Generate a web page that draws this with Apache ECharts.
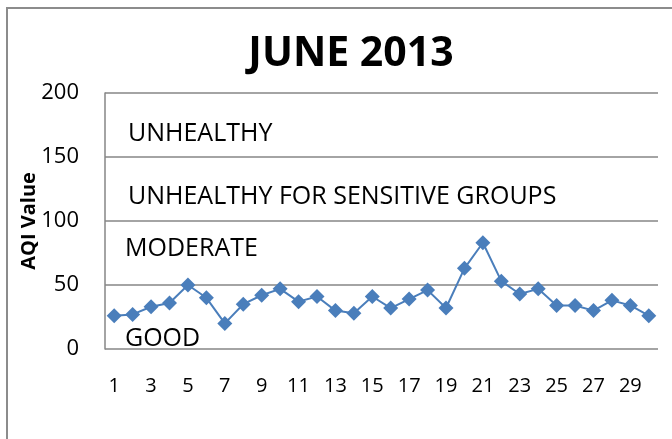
<!DOCTYPE html>
<html>
<head>
<meta charset="utf-8">
<script src="https://cdn.jsdelivr.net/npm/echarts@6/dist/echarts.min.js"></script>
<style>
  html, body { margin: 0; padding: 0; background: #fff; }
  #chart { width: 672px; height: 439px; }
</style>
</head>
<body>
<div id="chart"></div>
<script>
// 日期（6月）
const days = [];
for (let d = 1; d <= 30; d++) days.push(String(d));

// 每日 AQI 值
const aqiValues = [26, 27, 33, 36, 50, 40, 20, 35, 42, 47,
                   37, 41, 30, 28, 41, 32, 39, 46, 32, 63,
                   83, 53, 43, 47, 34, 34, 30, 38, 34, 26];

// 空气质量等级文字
const bandLabels = ['UNHEALTHY', 'UNHEALTHY FOR SENSITIVE GROUPS', 'MODERATE', 'GOOD'];

const chart = echarts.init(document.getElementById('chart'));
const font = '"Open Sans", sans-serif';
const bandFont = '25px "Open Sans", sans-serif';

const option = {
    animation: false,
    title: {
        text: 'JUNE 2013',
        left: 346,
        top: 29,
        textAlign: 'center',
        textStyle: { fontFamily: font, fontWeight: 'bold', fontSize: 41, color: '#000' }
    },
    grid: { left: 105, right: 14, top: 93, bottom: 90 },
    xAxis: {
        type: 'category',
        data: days,
        boundaryGap: true,
        axisLine: { show: false },
        axisTick: { show: false },
        axisLabel: { interval: 1, color: '#000', fontFamily: font, fontSize: 20, margin: 27 }
    },
    yAxis: {
        type: 'value',
        min: 0,
        max: 200,
        interval: 50,
        name: 'AQI Value',
        nameLocation: 'middle',
        nameGap: 66,
        nameMoveOverlap: false,
        nameTextStyle: { fontFamily: font, fontWeight: 'bold', fontSize: 20, color: '#000' },
        axisLine: { show: true, lineStyle: { color: '#868686', width: 1.5 } },
        axisTick: { show: false },
        axisLabel: { color: '#000', fontFamily: font, fontSize: 22, margin: 26 },
        splitLine: { lineStyle: { color: '#868686', width: 1.5 } }
    },
    graphic: [
        { type: 'rect', shape: { x: 7, y: 8, width: 700, height: 460 },
          style: { fill: 'none', stroke: '#8c8c8c', lineWidth: 2 } },
        { type: 'text', left: 128, top: 121, style: { text: bandLabels[0], font: bandFont, fill: '#000' } },
        { type: 'text', left: 128, top: 184, style: { text: bandLabels[1], font: bandFont, fill: '#000' } },
        { type: 'text', left: 125, top: 236, style: { text: bandLabels[2], font: bandFont, fill: '#000' } },
        { type: 'text', left: 125, top: 326, style: { text: bandLabels[3], font: bandFont, fill: '#000' } }
    ],
    series: [{
        type: 'line',
        data: aqiValues,
        symbol: 'diamond',
        symbolSize: 15,
        showAllSymbol: true,
        lineStyle: { color: '#4a7ebb', width: 2 },
        itemStyle: { color: '#4a7ebb' }
    }]
};
chart.setOption(option);
</script>
</body>
</html>
